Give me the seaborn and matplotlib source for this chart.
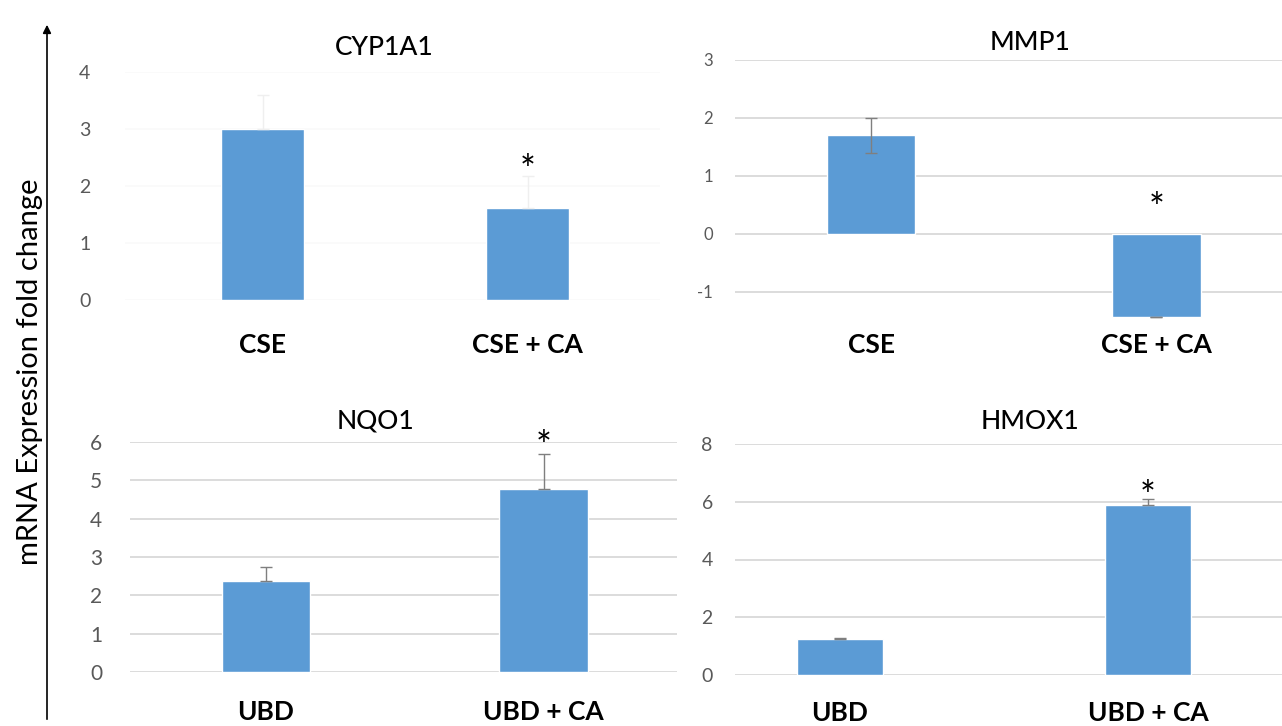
import matplotlib
matplotlib.use("Agg")
import matplotlib.pyplot as plt
import seaborn as sns
import pandas as pd

# ---- data ----
cyp_groups = ["CSE", "CSE + CA"]
cyp_values = [3.0, 1.62]
cyp_err_lo = [0.0, 0.0]
cyp_err_hi = [0.6, 0.55]

mmp_groups = ["CSE", "CSE + CA"]
mmp_values = [1.7, -1.43]
mmp_err_lo = [0.3, 0.01]
mmp_err_hi = [0.3, 0.0]

nqo_groups = ["UBD", "UBD + CA"]
nqo_values = [2.37, 4.78]
nqo_err_lo = [0.0, 0.0]
nqo_err_hi = [0.37, 0.9]

hmox_groups = ["UBD", "UBD + CA"]
hmox_values = [1.25, 5.88]
hmox_err_lo = [0.0, 0.0]
hmox_err_hi = [0.04, 0.22]

BAR = "#5B9BD5"
GRID = "#d9d9d9"
TICK = "#595959"

sns.set_theme(style="white")
plt.rcParams["font.family"] = ["Lato", "DejaVu Sans"]

fig = plt.figure(figsize=(12.82, 7.26), dpi=100)
W, H = 1282.0, 726.0


def box(left, right, top, bottom):
    return [left / W, 1 - bottom / H, (right - left) / W, (bottom - top) / H]


panels = [
    dict(title="CYP1A1", groups=cyp_groups, vals=cyp_values, lo=cyp_err_lo, hi=cyp_err_hi,
         rect=box(125, 660, 72, 300), ylim=(0, 4), yticks=[0, 1, 2, 3, 4],
         xlim=(-0.52, 1.5), width=0.315, grid="#fafafa", errc="#efefef",
         tfs=14, ypad=25, xpad=24, title_x=0.484, title_pad=12, star_y=2.25),
    dict(title="MMP1", groups=mmp_groups, vals=mmp_values, lo=mmp_err_lo, hi=mmp_err_hi,
         rect=box(735, 1282, 60, 318), ylim=(-1.45, 3), yticks=[-1, 0, 1, 2, 3],
         xlim=(-0.477, 1.44), width=0.31, grid=GRID, errc="#7f7f7f",
         tfs=12, ypad=16, xpad=11, title_x=0.539, title_pad=7, star_y=0.42),
    dict(title="NQO1", groups=nqo_groups, vals=nqo_values, lo=nqo_err_lo, hi=nqo_err_hi,
         rect=box(130, 677, 442, 672), ylim=(0, 6), yticks=[0, 1, 2, 3, 4, 5, 6],
         xlim=(-0.49, 1.48), width=0.32, grid=GRID, errc="#7f7f7f",
         tfs=15, ypad=20, xpad=20, title_x=0.448, title_pad=10, star_y=5.84),
    dict(title="HMOX1", groups=hmox_groups, vals=hmox_values, lo=hmox_err_lo, hi=hmox_err_hi,
         rect=box(735, 1282, 444, 675), ylim=(0, 8), yticks=[0, 2, 4, 6, 8],
         xlim=(-0.34, 1.435), width=0.28, grid=GRID, errc="#7f7f7f",
         tfs=14, ypad=16, xpad=19, title_x=0.539, title_pad=11, star_y=6.12),
]

for p in panels:
    ax = fig.add_axes(p["rect"])
    df = pd.DataFrame({"group": p["groups"], "value": p["vals"]})
    sns.barplot(data=df, x="group", y="value", order=p["groups"], color=BAR,
                saturation=1, width=p["width"], errorbar=None, ax=ax, zorder=2)
    ax.errorbar([0, 1], p["vals"], yerr=[p["lo"], p["hi"]], fmt="none",
                ecolor=p["errc"], elinewidth=1.0, capsize=4, capthick=1.0, zorder=3)
    ax.set_xlim(*p["xlim"])
    ax.set_ylim(*p["ylim"])
    ax.set_yticks(p["yticks"])
    ax.set_yticklabels([str(t) for t in p["yticks"]])
    ax.yaxis.grid(True, color=p["grid"], linewidth=1.3, zorder=0)
    ax.set_axisbelow(True)
    for s in ax.spines.values():
        s.set_visible(False)
    ax.set_xlabel("")
    ax.set_ylabel("")
    ax.tick_params(axis="y", length=0, pad=p["ypad"], labelsize=p["tfs"], labelcolor=TICK)
    ax.tick_params(axis="x", length=0, pad=p["xpad"], labelsize=19, labelcolor="black")
    for lab in ax.get_xticklabels():
        lab.set_fontweight("bold")
    ax.set_title(p["title"], x=p["title_x"], pad=p["title_pad"], fontsize=19,
                 fontweight="medium", color="black")
    # significance marker above the treated group
    ax.text(1, p["star_y"], "*", ha="center", va="center", fontsize=27,
            color="black", clip_on=False)

# shared y-axis label and arrow
fig.text(30 / W, 1 - 372 / H, "mRNA Expression fold change", rotation=90,
         ha="center", va="center", fontsize=21, color="black")
fig.patches.append(matplotlib.patches.FancyArrowPatch(
    (47 / W, 1 - 722 / H), (47 / W, 1 - 22 / H), transform=fig.transFigure,
    arrowstyle="-|>", mutation_scale=12, color="black", linewidth=1.2))

fig.savefig("out.png", dpi=100, facecolor="white")
